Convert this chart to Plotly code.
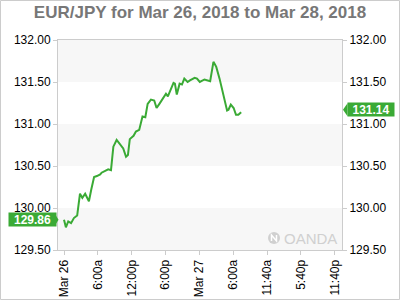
import plotly.graph_objects as go

times = ["2018-03-26 00:00", "2018-03-26 00:20", "2018-03-26 00:45", "2018-03-26 01:15", "2018-03-26 01:45",
         "2018-03-26 02:20", "2018-03-26 02:50", "2018-03-26 03:15", "2018-03-26 03:45", "2018-03-26 04:00",
         "2018-03-26 04:25", "2018-03-26 04:50", "2018-03-26 05:20", "2018-03-26 05:50", "2018-03-26 06:25",
         "2018-03-26 06:40", "2018-03-26 07:15", "2018-03-26 07:50", "2018-03-26 08:20", "2018-03-26 08:45",
         "2018-03-26 09:20", "2018-03-26 09:55", "2018-03-26 10:30", "2018-03-26 11:00", "2018-03-26 11:20",
         "2018-03-26 11:40", "2018-03-26 12:20", "2018-03-26 12:45", "2018-03-26 13:20", "2018-03-26 13:55",
         "2018-03-26 14:25", "2018-03-26 14:50", "2018-03-26 15:25", "2018-03-26 16:00", "2018-03-26 16:25",
         "2018-03-26 16:55", "2018-03-26 17:30", "2018-03-26 18:05", "2018-03-26 18:25", "2018-03-26 18:55",
         "2018-03-26 19:25", "2018-03-26 19:40", "2018-03-26 20:00", "2018-03-26 20:30", "2018-03-26 20:55",
         "2018-03-26 21:20", "2018-03-26 21:55", "2018-03-26 22:20", "2018-03-26 23:10", "2018-03-26 23:35",
         "2018-03-27 00:05", "2018-03-27 00:55", "2018-03-27 01:20", "2018-03-27 01:55", "2018-03-27 02:30",
         "2018-03-27 03:00", "2018-03-27 03:35", "2018-03-27 04:15", "2018-03-27 04:55", "2018-03-27 05:10",
         "2018-03-27 05:35", "2018-03-27 06:05", "2018-03-27 06:30", "2018-03-27 06:55", "2018-03-27 07:25"]
prices = [129.86, 129.77, 129.84, 129.82, 129.88,
          129.91, 130.17, 130.12, 130.17, 130.14,
          130.08, 130.22, 130.37, 130.38, 130.40,
          130.42, 130.44, 130.46, 130.45, 130.73,
          130.81, 130.76, 130.71, 130.61, 130.63,
          130.82, 130.86, 130.91, 130.93, 131.09,
          131.08, 131.24, 131.29, 131.28, 131.19,
          131.24, 131.30, 131.36, 131.33, 131.40,
          131.49, 131.48, 131.35, 131.48, 131.47,
          131.54, 131.50, 131.52, 131.55, 131.54,
          131.50, 131.53, 131.52, 131.51, 131.74,
          131.68, 131.54, 131.34, 131.16, 131.17,
          131.23, 131.19, 131.11, 131.11, 131.14]

tick_vals = ["2018-03-26 00:00", "2018-03-26 06:00", "2018-03-26 12:00", "2018-03-26 18:00",
             "2018-03-27 00:00", "2018-03-27 06:00", "2018-03-27 12:00", "2018-03-27 18:00",
             "2018-03-28 00:00"]
tick_text = ["Mar 26", "6:00a", "12:00p", "6:00p", "Mar 27", "6:00a", "11:40a", "5:40p", "11:40p"]
y_ticks = [129.5, 130.0, 130.5, 131.0, 131.5, 132.0]
y_text = ["129.50", "130.00", "130.50", "131.00", "131.50", "132.00"]
bands = [(129.5, 130.0), (130.5, 131.0), (131.5, 132.0)]
first_label = "129.86"
last_label = "131.14"

green = "#3aaa35"
W, H = 400, 300
L, R, T, B = 58, 58, 40, 50
pw, ph = W - L - R, H - T - B
ymin, ymax = 129.5, 132.0

def px(x):
    return (x - L) / pw

def py(y):
    return (H - B - y) / ph

def pix_y(v):
    return H - B - (v - ymin) / (ymax - ymin) * ph

fig = go.Figure()
fig.add_trace(go.Scatter(x=times, y=prices, mode="lines",
                         line=dict(color=green, width=2), showlegend=False, hoverinfo="skip"))
fig.add_trace(go.Scatter(x=[times[0]], y=[prices[0]], yaxis="y2", mode="markers",
                         marker=dict(opacity=0), showlegend=False, hoverinfo="skip"))

shapes = []
for lo, hi in bands:
    shapes.append(dict(type="rect", xref="paper", yref="y", x0=0, x1=1, y0=lo, y1=hi,
                       fillcolor="#f7f7f7", line=dict(width=0), layer="below"))
# outer border
shapes.append(dict(type="rect", xref="paper", yref="paper", x0=px(0.5), x1=px(W - 0.5),
                   y0=py(H - 0.5), y1=py(0.5), line=dict(color="#cccccc", width=1)))

# value labels with pointers
yf = pix_y(prices[0])
yl = pix_y(prices[-1]) - 2.5
font_lbl = dict(color="white", size=12, family="Liberation Sans, Arial")
fig.add_annotation(xref="paper", yref="paper", x=px(8), y=py(yf), xanchor="left", yanchor="middle",
                   text="<b>" + first_label + "</b>", showarrow=False, bgcolor=green,
                   font=font_lbl, borderpad=0, width=47, height=13)
shapes.append(dict(type="path", xref="paper", yref="paper",
                   path="M %f,%f L %f,%f L %f,%f Z" % (px(54.5), py(yf - 6.5), px(58.5), py(yf),
                                                        px(54.5), py(yf + 6.5)),
                   fillcolor=green, line=dict(width=0)))
fig.add_annotation(xref="paper", yref="paper", x=px(347), y=py(yl), xanchor="left", yanchor="middle",
                   text="<b>" + last_label + "</b>", showarrow=False, bgcolor=green,
                   font=font_lbl, borderpad=0, width=46, height=13)
shapes.append(dict(type="path", xref="paper", yref="paper",
                   path="M %f,%f L %f,%f L %f,%f Z" % (px(347.5), py(yl - 6.5), px(343), py(yl),
                                                        px(347.5), py(yl + 6.5)),
                   fillcolor=green, line=dict(width=0)))

# OANDA watermark
fig.add_annotation(xref="paper", yref="paper", x=px(282), y=py(238), xanchor="left", yanchor="middle",
                   text="OANDA", showarrow=False,
                   font=dict(color="#d0d0d0", size=15, family="Liberation Sans, Arial"))
shapes.append(dict(type="circle", xref="paper", yref="paper", x0=px(268), x1=px(280),
                   y0=py(244), y1=py(232), fillcolor="#d0d0d0", line=dict(width=0)))
shapes.append(dict(type="path", xref="paper", yref="paper",
                   path="M %f,%f L %f,%f L %f,%f L %f,%f" % (px(271.5), py(241), px(271.5), py(235),
                                                             px(276.5), py(241), px(276.5), py(235)),
                   line=dict(color="white", width=1.5)))

axfont = dict(color="black", size=12, family="Liberation Sans, Arial")
fig.update_layout(
    width=W, height=H,
    margin=dict(l=L, r=R, t=T, b=B, autoexpand=False),
    paper_bgcolor="white", plot_bgcolor="white",
    title=dict(text="<b>EUR/JPY for Mar 26, 2018 to Mar 28, 2018</b>", x=0.5, xanchor="center",
               y=1 - 12.5 / H, yanchor="middle",
               font=dict(color="#777777", size=17, family="Liberation Sans, Arial")),
    shapes=shapes,
    xaxis=dict(type="date", range=["2018-03-25 22:56", "2018-03-28 01:18"],
               tickvals=tick_vals, ticktext=tick_text, tickangle=-90, automargin=False,
               showgrid=False, zeroline=False, showline=True, linecolor="#cccccc", mirror=True,
               ticks="outside", ticklen=4, tickcolor="#cccccc", tickfont=axfont),
    yaxis=dict(range=[ymin, ymax], tickvals=y_ticks, ticktext=y_text, automargin=False,
               showgrid=False, zeroline=False, showline=True, linecolor="#cccccc", mirror=True,
               ticks="outside", ticklen=4, tickcolor="#cccccc", tickfont=axfont),
    yaxis2=dict(range=[ymin, ymax], tickvals=y_ticks, ticktext=y_text, overlaying="y", side="right",
                automargin=False, showgrid=False, zeroline=False, ticks="outside", ticklen=4,
                tickcolor="#cccccc", tickfont=axfont),
)
fig.write_html("out.html")
